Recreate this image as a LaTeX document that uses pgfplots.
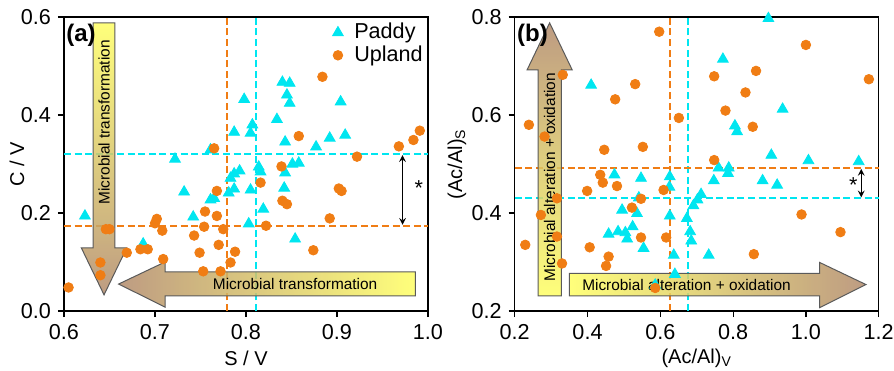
\documentclass[border=0pt]{standalone}
\usepackage{fontspec}
\setmainfont{Liberation Sans}
\usepackage{pgfplots}
\pgfplotsset{compat=1.18}
\definecolor{pc}{RGB}{0,230,240}
\definecolor{uc}{RGB}{240,125,20}
\definecolor{ay}{RGB}{255,255,100}
\definecolor{ab}{RGB}{178,138,108}
\definecolor{ae}{RGB}{90,90,90}
\newcommand{\fs}{\fontsize{10.8}{12}\selectfont}
\newcommand{\fa}{\fontsize{7.7}{9}\selectfont}
\tikzset{bigarrow/.style={draw=ae, line width=0.5pt, fill opacity=0.85}}
\pgfplotsset{
  panel/.style={
    width=182pt, height=147pt, scale only axis,
    axis line style={line width=0.6pt},
    tick align=outside, xtick pos=bottom, ytick pos=left,
    tick style={black, line width=0.6pt},
    major tick length=3pt,
    /pgf/number format/assume math mode=true,
    ticklabel style={font=\fs},
    xticklabel style={/pgf/number format/.cd, fixed, fixed zerofill, precision=1},
    yticklabel style={/pgf/number format/.cd, fixed, fixed zerofill, precision=1},
    label style={font=\fs},
    every axis x label/.style={at={(rel axis cs:0.5,-0.160)}, anchor=center},
    clip=false,
  },
  pmark/.style={only marks, mark=triangle*, mark size=3.1pt, color=pc},
  umark/.style={only marks, mark=*, mark size=2.4pt, color=uc},
}
\tikzset{
  pline/.style={draw=pc, dash pattern=on 3.5pt off 1.8pt, line width=0.9pt},
  uline/.style={draw=uc, dash pattern=on 3.5pt off 1.8pt, line width=0.9pt},
}
\begin{document}
\begin{tikzpicture}
\begin{axis}[panel, name=a,
  xmin=0.6, xmax=1.0, ymin=0, ymax=0.6,
  xtick={0.6,0.7,0.8,0.9,1.0}, ytick={0,0.2,0.4,0.6},
  xlabel={S / V}, ylabel={C / V},
  every axis y label/.style={at={(rel axis cs:-0.129,0.5)}, rotate=90, anchor=center},
  legend style={at={(0.995,0.99)}, anchor=north east, draw=none, fill=none, font=\fs,
    row sep=-1pt, inner sep=0pt, nodes={inner sep=1.5pt},
    /tikz/every odd column/.append style={column sep=4pt}},
  legend cell align=left]
\addplot[pmark] coordinates {
(0.840,0.467) (0.848,0.465) (0.845,0.441) (0.848,0.424) (0.798,0.432) (0.904,0.427)
(0.834,0.391) (0.807,0.380) (0.805,0.363) (0.787,0.365) (0.843,0.345) (0.909,0.359)
(0.892,0.353) (0.877,0.335) (0.761,0.329) (0.722,0.310) (0.851,0.300) (0.858,0.302)
(0.814,0.294) (0.816,0.284) (0.843,0.282) (0.793,0.286) (0.787,0.280) (0.783,0.271)
(0.732,0.243) (0.761,0.227) (0.765,0.230) (0.781,0.241) (0.787,0.249) (0.805,0.247)
(0.842,0.251) (0.623,0.194) (0.742,0.192) (0.819,0.208) (0.803,0.178) (0.854,0.147)
(0.687,0.137)};
\addlegendentry{Paddy}
\addplot[umark] coordinates {
(0.884,0.478) (0.858,0.357) (0.765,0.332) (0.922,0.315) (0.968,0.336) (0.984,0.349)
(0.991,0.368) (0.839,0.295) (0.816,0.262) (0.768,0.245) (0.902,0.250) (0.905,0.245)
(0.840,0.225) (0.845,0.218) (0.892,0.189) (0.702,0.188) (0.700,0.179) (0.755,0.203)
(0.768,0.194) (0.708,0.164) (0.754,0.172) (0.775,0.167) (0.822,0.174) (0.646,0.167)
(0.650,0.167) (0.743,0.154) (0.770,0.135) (0.684,0.126) (0.692,0.126) (0.669,0.119)
(0.749,0.119) (0.788,0.121) (0.874,0.124) (0.709,0.106) (0.783,0.099) (0.640,0.099)
(0.753,0.081) (0.772,0.081) (0.640,0.073) (0.605,0.048)};
\addlegendentry{Upland}
\addplot[uline, forget plot] coordinates {(0.779,0) (0.779,0.6)};
\addplot[pline, forget plot] coordinates {(0.811,0) (0.811,0.6)};
\addplot[pline, forget plot] coordinates {(0.6,0.320) (1.0,0.320)};
\addplot[uline, forget plot] coordinates {(0.6,0.173) (1.0,0.173)};
% vertical arrow
\shadedraw[bigarrow, top color=ay, bottom color=ab]
 (axis cs:0.632,0.588) -- (axis cs:0.656,0.588) -- (axis cs:0.656,0.129) -- (axis cs:0.669,0.129)
 -- (axis cs:0.644,0.033) -- (axis cs:0.619,0.129) -- (axis cs:0.632,0.129) -- cycle;
\node[rotate=90, font=\fa] at (axis cs:0.644,0.385) {Microbial transformation};
% horizontal arrow
\shadedraw[bigarrow, left color=ab, right color=ay]
 (axis cs:0.986,0.080) -- (axis cs:0.711,0.080) -- (axis cs:0.711,0.100) -- (axis cs:0.660,0.055)
 -- (axis cs:0.711,0.008) -- (axis cs:0.711,0.031) -- (axis cs:0.986,0.031) -- cycle;
\node[font=\fa] at (axis cs:0.854,0.055) {Microbial transformation};
\draw[<->, >=stealth, line width=0.5pt] (axis cs:0.972,0.318) -- (axis cs:0.972,0.176);
\node[font=\fs] at (axis cs:0.990,0.250) {*};
\node[font=\bfseries\fontsize{12}{13}\selectfont, anchor=north west, inner sep=1pt] at (rel axis cs:0,0.985) {(a)};
\end{axis}
\begin{axis}[panel, name=b, at={(225.35pt,0)},
  xmin=0.2, xmax=1.2, ymin=0.2, ymax=0.8,
  xtick={0.2,0.4,0.6,0.8,1.0,1.2}, ytick={0.2,0.4,0.6,0.8},
  xlabel={(Ac/Al)\textsubscript{V}}, ylabel={(Ac/Al)\textsubscript{S}},
  every axis y label/.style={at={(rel axis cs:-0.159,0.5)}, rotate=90, anchor=center}]
\addplot[pmark] coordinates {
(0.897,0.797) (0.772,0.714) (0.410,0.661) (0.936,0.612) (0.805,0.578) (0.811,0.566)
(0.905,0.518) (1.007,0.507) (1.145,0.505) (0.760,0.492) (0.788,0.492) (0.786,0.481)
(0.474,0.478) (0.547,0.471) (0.626,0.474) (0.747,0.466) (0.881,0.466) (0.921,0.457)
(0.625,0.453) (0.712,0.438) (0.702,0.427) (0.691,0.415) (0.541,0.431) (0.495,0.406)
(0.536,0.399) (0.626,0.394) (0.673,0.389) (0.524,0.372) (0.458,0.357) (0.484,0.362)
(0.504,0.360) (0.509,0.347) (0.682,0.362) (0.685,0.343) (0.554,0.328) (0.637,0.314)
(0.733,0.314) (0.640,0.275) (0.586,0.253)};
\addplot[umark] coordinates {
(0.597,0.770) (1.000,0.743) (1.173,0.673) (0.748,0.679) (0.863,0.690) (0.531,0.663)
(0.332,0.682) (0.834,0.646) (0.476,0.632) (0.779,0.609) (0.651,0.594) (0.854,0.576)
(0.239,0.580) (0.282,0.556) (0.446,0.529) (0.552,0.535) (0.748,0.508) (0.435,0.478)
(0.442,0.462) (0.481,0.455) (0.399,0.445) (0.609,0.447) (0.547,0.429) (0.522,0.411)
(0.316,0.430) (0.272,0.396) (0.229,0.335) (0.316,0.352) (0.406,0.330) (0.547,0.350)
(0.616,0.350) (0.458,0.311) (0.451,0.292) (0.330,0.297) (0.988,0.397) (1.095,0.361)
(0.857,0.316) (0.586,0.247)};
\addplot[uline, forget plot] coordinates {(0.626,0.2) (0.626,0.8)};
\addplot[pline, forget plot] coordinates {(0.675,0.2) (0.675,0.8)};
\addplot[uline, forget plot] coordinates {(0.2,0.492) (1.2,0.492)};
\addplot[pline, forget plot] coordinates {(0.2,0.430) (1.2,0.430)};
% vertical arrow up
\shadedraw[bigarrow, top color=ab, bottom color=ay]
 (axis cs:0.264,0.231) -- (axis cs:0.328,0.231) -- (axis cs:0.328,0.692) -- (axis cs:0.358,0.692)
 -- (axis cs:0.296,0.788) -- (axis cs:0.234,0.692) -- (axis cs:0.264,0.692) -- cycle;
\node[rotate=90, font=\fa] at (axis cs:0.296,0.473) {Microbial alteration + oxidation};
% horizontal arrow right
\shadedraw[bigarrow, left color=ay, right color=ab]
 (axis cs:0.350,0.231) -- (axis cs:1.038,0.231) -- (axis cs:1.038,0.207) -- (axis cs:1.165,0.254)
 -- (axis cs:1.038,0.299) -- (axis cs:1.038,0.277) -- (axis cs:0.350,0.277) -- cycle;
\node[font=\fa] at (axis cs:0.672,0.254) {Microbial alteration + oxidation};
\draw[<->, >=stealth, line width=0.5pt] (axis cs:1.152,0.490) -- (axis cs:1.152,0.432);
\node[font=\fs] at (axis cs:1.130,0.458) {*};
\node[font=\bfseries\fontsize{12}{13}\selectfont, anchor=north west, inner sep=1pt] at (rel axis cs:0,0.985) {(b)};
\end{axis}
\pgfresetboundingbox
\path ([xshift=-32pt,yshift=-29.5pt]a.south west) rectangle ([xshift=415pt,yshift=8.5pt]a.north west);
\end{tikzpicture}
\end{document}
